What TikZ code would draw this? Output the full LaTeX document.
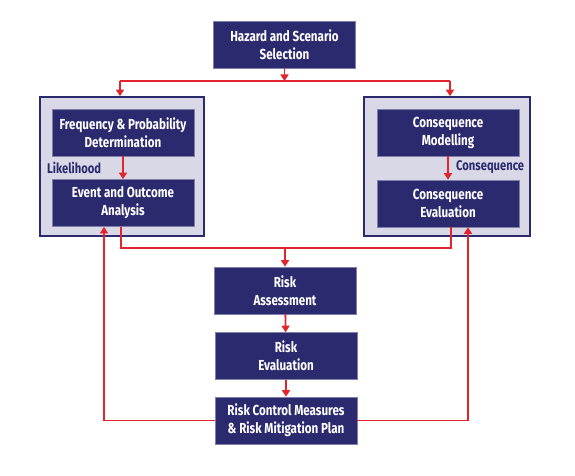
\documentclass[tikz,border=0pt]{standalone}
\usepackage{fontspec}
\usepackage{tikz}
\usetikzlibrary{arrows.meta}
\newfontfamily\boxfont[FakeStretch=0.8]{Fira Sans}
\definecolor{navy}{HTML}{2C2A6E}
\definecolor{lilac}{HTML}{D8D8E7}
\definecolor{flowred}{HTML}{E2252D}

\begin{document}
\begin{tikzpicture}[x=1pt, y=-1pt,
    stage/.style={draw=navy!60, line width=0.6pt, fill=navy, text=white,
      minimum width=142pt, minimum height=47pt, inner sep=2pt, align=center,
      font=\boxfont\bfseries\fontsize{14.5}{18}\selectfont},
    group/.style={draw=navy, line width=1.6pt, fill=lilac,
      minimum width=164pt, minimum height=139pt, inner sep=0pt},
    tag/.style={text=navy, inner sep=0pt, anchor=west,
      font=\boxfont\bfseries\fontsize{14}{16}\selectfont},
    link/.style={draw=flowred, line width=1.8pt},
    flow/.style={link, -{Triangle[width=8pt,length=6.5pt]}}]
			%%%%% START %%%%%
			\useasboundingbox (0, 0) rectangle (575, 476);

			\node[stage] (haz) at (284.5, 44.5) {Hazard and Scenario\\Selection};

			\node[group] (lgrp) at (122, 166.5) {};
			\node[group, minimum width=166pt] (rgrp) at (447, 166.5) {};

			\node[stage] (freq) at (123, 132.5) {Frequency \& Probability\\Determination};
			\node[stage] (event) at (123, 203) {Event and Outcome\\Analysis};
			\node[stage] (cmod) at (448, 132.5) {Consequence\\Modelling};
			\node[stage] (ceval) at (448, 203.5) {Consequence\\Evaluation};

			\node[tag] (lik) at (47, 167.5) {Likelihood};
			\node[tag] (cons) at (456, 167.5) {Consequence};

			\node[stage] (rass) at (285, 290.5) {Risk\\Assessment};
			\node[stage] (reval) at (286, 356) {Risk\\Evaluation};
			\node[stage] (rctrl) at (286, 420.5) {Risk Control Measures\\\& Risk Mitigation Plan};

			% split to both branches
			\coordinate (split) at (284.5, 81);
			\coordinate (tl) at (120, 81);
			\coordinate (tr) at (450, 81);
			\draw[flow] (haz) -- (split);
			\draw[link] (tl) -- (tr);
			\draw[flow] (tl) -- (tl |- lgrp.north);
			\draw[flow] (tr) -- (tr |- rgrp.north);

			\draw[flow] (freq) -- (event);
			\draw[flow] (cmod) -- (ceval);

			% merge into assessment
			\coordinate (merge) at (285, 248);
			\draw[link] ([xshift=-2pt]event.south) |- (merge) -| ([xshift=3pt]ceval.south);
			\draw[flow] (merge) -- (rass);
			\draw[flow] (rass) -- (reval);
			\draw[flow] (reval) -- (rctrl);

			% feedback loops
			\draw[flow] (rctrl.west) -| ([xshift=-19pt]event.south);
			\draw[flow] (rctrl.east) -| ([xshift=20pt]ceval.south);
			%%%%% END %%%%%
\end{tikzpicture}
\end{document}
